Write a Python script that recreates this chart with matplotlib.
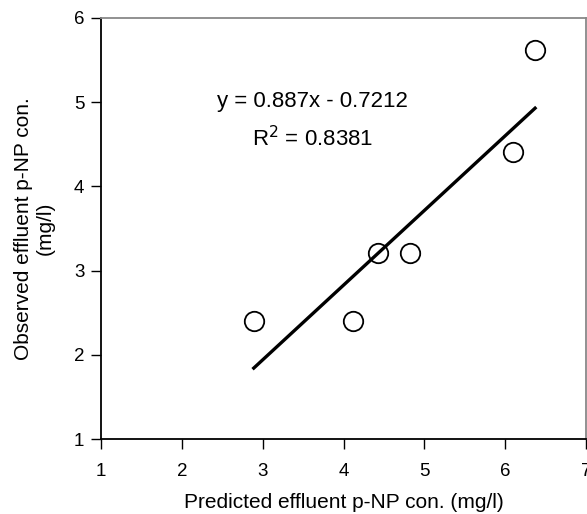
#!/usr/bin/env python3

import numpy as np
import matplotlib
matplotlib.use("Agg")
import matplotlib.pyplot as plt

plt.rcParams["font.family"] = ["Liberation Sans", "DejaVu Sans"]

predicted = [2.89, 4.12, 4.43, 4.82, 6.10, 6.37]
observed = [2.40, 2.40, 3.21, 3.21, 4.41, 5.62]
slope = 0.887
intercept = -0.7212
r2 = 0.8381


def main():
    fig = plt.figure(figsize=(5.87, 5.14), dpi=100)
    ax = fig.add_axes([101 / 587, 1 - 439 / 514, 485 / 587, 421 / 514])

    ax.plot(predicted, observed, "o", ms=14, mfc="none", mec="black", mew=1.3,
            zorder=3)
    xs = np.array([min(predicted), max(predicted)])
    ax.plot(xs, slope * xs + intercept, color="black", lw=2.4, zorder=2)

    ax.text(3.62, 5.01, f"y = {slope}x - {abs(intercept)}", ha="center",
            va="center", fontsize=16)
    ax.text(3.62, 4.57, f"R$^2$ = {r2}", ha="center", va="center",
            fontsize=16)

    ax.set_xlim(1, 7)
    ax.set_ylim(1, 6)
    ax.set_xticks(range(1, 8))
    ax.set_yticks(range(1, 7))
    ax.tick_params(direction="out", length=7, width=1, labelsize=13.5,
                   color="black")
    ax.tick_params(axis="x", pad=10)
    ax.tick_params(axis="y", pad=5)
    for side in ("left", "bottom"):
        ax.spines[side].set_color("black")
        ax.spines[side].set_linewidth(1.3)
    for side in ("top", "right"):
        ax.spines[side].set_color("#888888")
        ax.spines[side].set_linewidth(1.3)

    ax.set_xlabel("Predicted effluent p-NP con. (mg/l)", fontsize=15, labelpad=10)
    ax.set_ylabel("Observed effluent p-NP con.\n(mg/l)", fontsize=15,
                  labelpad=14, linespacing=1.15)

    fig.savefig("out.png", dpi=100)


if __name__ == "__main__":
    main()
